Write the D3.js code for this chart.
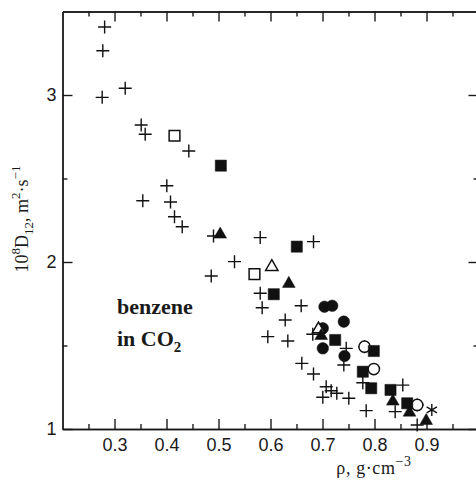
<!DOCTYPE html>
<html>
<head>
<meta charset="UTF-8">
<style>
  body { margin: 0; background: #fff; }
  .axis path, .axis line { stroke: #1a1a1a; stroke-width: 1.4; }
  .axis text { font-family: "Liberation Sans", Arial, sans-serif; font-size: 18px; fill: #1a1a1a; }
  .lbl { font-family: "Liberation Serif", "Times New Roman", serif; font-size: 18px; fill: #1a1a1a; }
  .note { font-family: "Liberation Serif", "Times New Roman", serif; font-size: 22px; font-weight: bold; fill: #1a1a1a; }
</style>
</head>
<body>
<script src="https://d3js.org/d3.v7.min.js"></script>
<script>
// benzene in CO2: density (g/cm3) vs 10^8 D12 (m2/s)
var plusPts = [
  [0.281, 3.407], [0.2775, 3.265], [0.2763, 2.986], [0.3206, 3.040], [0.3513, 2.820],
  [0.3590, 2.765], [0.4429, 2.665], [0.4006, 2.457], [0.3544, 2.367], [0.4077, 2.359],
  [0.4154, 2.271], [0.4302, 2.211], [0.4904, 2.156], [0.5802, 2.146], [0.6827, 2.122],
  [0.5308, 2.002], [0.4860, 1.916], [0.5802, 1.813], [0.5840, 1.726], [0.6590, 1.738],
  [0.6283, 1.653], [0.5948, 1.553], [0.6333, 1.527], [0.6813, 1.567], [0.7456, 1.483],
  [0.7410, 1.383], [0.6602, 1.393], [0.6827, 1.329], [0.7775, 1.277], [0.7071, 1.253],
  [0.7167, 1.229], [0.7006, 1.190], [0.7275, 1.214], [0.7506, 1.184], [0.7840, 1.110],
  [0.8544, 1.263], [0.8398, 1.104], [0.8821, 1.024], [0.7808, 1.493], [0.8821, 1.144]
];
var filledSquares = [
  [0.5045, 2.577], [0.6506, 2.092], [0.6063, 1.807], [0.7244, 1.533], [0.7987, 1.467],
  [0.7775, 1.343], [0.7937, 1.244], [0.8308, 1.234], [0.8629, 1.154]
];
var openSquares = [[0.4154, 2.756], [0.5692, 1.928]];
var filledTriangles = [
  [0.5033, 2.165], [0.6352, 1.870], [0.6975, 1.558], [0.8352, 1.165], [0.8673, 1.099], [0.8994, 1.049]
];
var openTriangles = [[0.6025, 1.971], [0.6923, 1.598]];
var filledCircles = [
  [0.7038, 1.732], [0.7187, 1.738], [0.7410, 1.643], [0.7006, 1.603], [0.7006, 1.483], [0.7423, 1.437]
];
var openCircles = [[0.7808, 1.493], [0.7987, 1.359], [0.8821, 1.144]];
var asterisks = [[0.9102, 1.114]];

var xTicks = [0.3, 0.4, 0.5, 0.6, 0.7, 0.8, 0.9];
var xMinor = [0.25, 0.35, 0.45, 0.55, 0.65, 0.75, 0.85, 0.95];
var yTicks = [1, 2, 3];
var yMinor = [1.5, 2.5];

var width = 476, height = 483;
var svg = d3.select("body").append("svg")
  .attr("width", width).attr("height", height);

var x = d3.scaleLinear().domain([0.2, 1.0]).range([62.5, 478.5]);
var y = d3.scaleLinear().domain([1, 3.5]).range([429, 11.5]);

// frame + ticks (ticks point inward)
function addAxis(axisFn, scale, vals, size, tf, labels, pad) {
  var a = axisFn(scale).tickValues(vals).tickSizeInner(-size).tickSizeOuter(0).tickPadding(pad || 0);
  if (!labels) a.tickFormat("");
  else a.tickFormat(d3.format(""));
  svg.append("g").attr("class", "axis").attr("transform", tf).call(a);
}
addAxis(d3.axisBottom, x, xTicks, 10, "translate(0,429)", true, 9);
addAxis(d3.axisBottom, x, xMinor, 5, "translate(0,429)", false);
addAxis(d3.axisTop, x, xTicks, 10, "translate(0,11.5)", false);
addAxis(d3.axisTop, x, xMinor, 5, "translate(0,11.5)", false);
addAxis(d3.axisLeft, y, yTicks, 10, "translate(62.5,0)", true, 6);
addAxis(d3.axisLeft, y, yMinor, 5, "translate(62.5,0)", false);
addAxis(d3.axisRight, y, yTicks, 10, "translate(478.5,0)", false);
addAxis(d3.axisRight, y, yMinor, 5, "translate(478.5,0)", false);

// markers
var ink = "#111";
function tr(d) { return "translate(" + x(d[0]) + "," + y(d[1]) + ")"; }

function symbols(data, type, size, filled) {
  svg.append("g").selectAll("path").data(data).enter().append("path")
    .attr("transform", tr)
    .attr("d", d3.symbol().type(type).size(size))
    .attr("fill", filled ? ink : "#fff")
    .attr("stroke", ink)
    .attr("stroke-width", filled ? 0.5 : 1.5);
}

svg.append("g").selectAll("path").data(plusPts).enter().append("path")
  .attr("transform", tr)
  .attr("d", "M-6.5,0H6.5M0,-6.5V6.5")
  .attr("stroke", ink).attr("stroke-width", 1.4).attr("fill", "none");

symbols(openCircles, d3.symbolCircle, 100, false);
symbols(filledCircles, d3.symbolCircle, 105, true);
symbols(openSquares, d3.symbolSquare, 115, false);
symbols(filledSquares, d3.symbolSquare, 125, true);
symbols(openTriangles, d3.symbolTriangle, 66, false);
symbols(filledTriangles, d3.symbolTriangle, 70, true);

svg.append("g").selectAll("path").data(asterisks).enter().append("path")
  .attr("transform", tr)
  .attr("d", d3.symbol().type(d3.symbolAsterisk).size(100))
  .attr("stroke", ink).attr("stroke-width", 1.4).attr("fill", "none");

// axis labels
var xl = svg.append("text").attr("class", "lbl")
  .attr("x", 374).attr("y", 474).attr("text-anchor", "middle")
  .attr("font-size", 19).attr("letter-spacing", 0.6);
xl.append("tspan").text("ρ, g·cm");
xl.append("tspan").attr("dy", -8).attr("font-size", 14).text("−3");

var yl = svg.append("text").attr("class", "lbl")
  .attr("transform", "translate(28,219) rotate(-90)").attr("text-anchor", "middle");
yl.append("tspan").text("10");
yl.append("tspan").attr("dy", -8).attr("font-size", 13).text("8");
yl.append("tspan").attr("dy", 8).text("D");
yl.append("tspan").attr("dy", 5).attr("font-size", 13).text("12");
yl.append("tspan").attr("dy", -5).text(", m");
yl.append("tspan").attr("dy", -8).attr("font-size", 13).text("2");
yl.append("tspan").attr("dy", 8).text("·s");
yl.append("tspan").attr("dy", -8).attr("font-size", 13).text("−1");

// annotation
svg.append("text").attr("class", "note").attr("x", 117).attr("y", 314).text("benzene");
var n2 = svg.append("text").attr("class", "note").attr("x", 117).attr("y", 346);
n2.append("tspan").text("in CO");
n2.append("tspan").attr("dy", 6).attr("font-size", 15).text("2");
</script>
</body>
</html>
